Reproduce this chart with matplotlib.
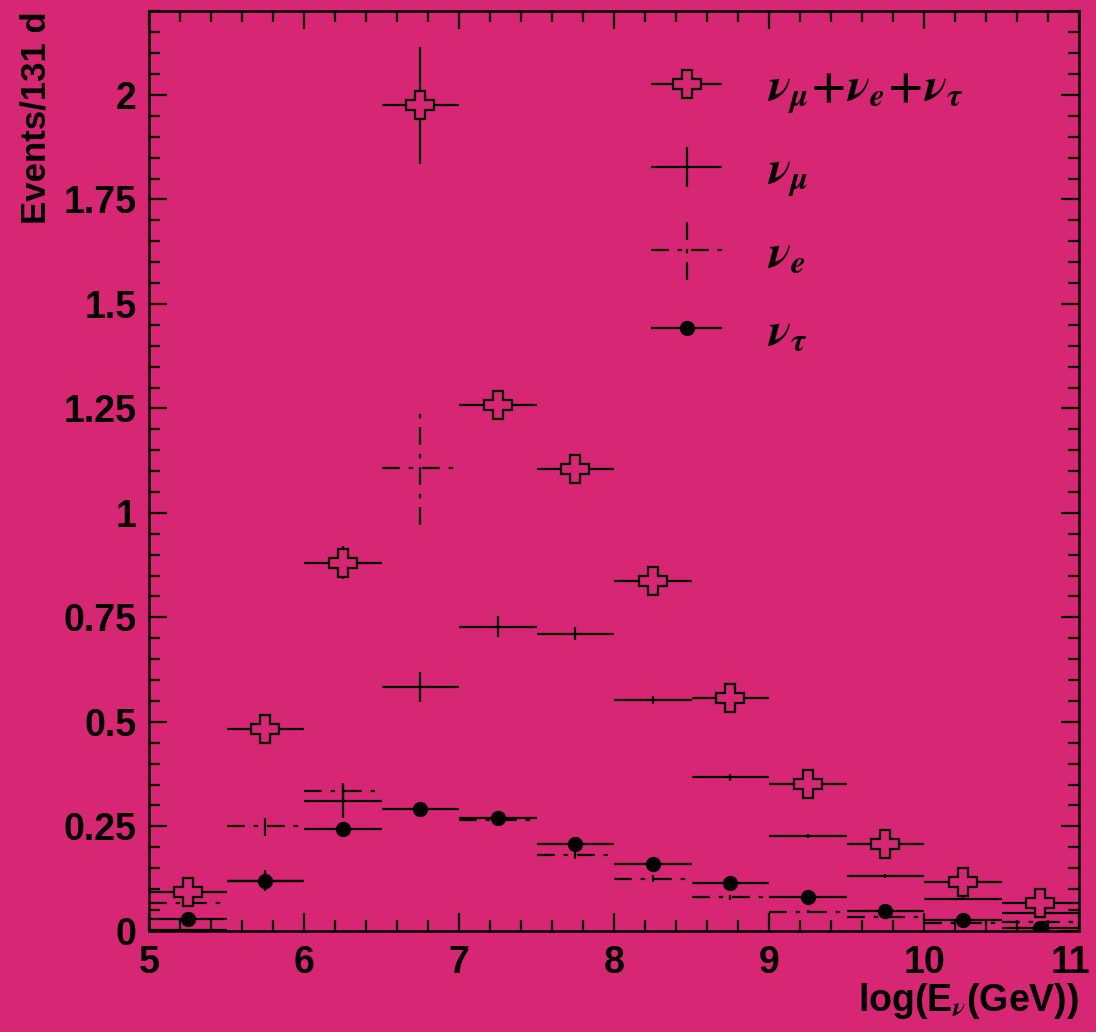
import matplotlib
matplotlib.use("Agg")
import matplotlib.pyplot as plt
from matplotlib.ticker import MultipleLocator, FixedLocator, FixedFormatter
from matplotlib.legend_handler import HandlerErrorbar
from matplotlib.transforms import ScaledTranslation

# energy bins (log10 E / GeV), 0.5 wide
bin_centers = [5.25, 5.75, 6.25, 6.75, 7.25, 7.75, 8.25, 8.75, 9.25, 9.75, 10.25, 10.75]
bin_half = [0.25] * 12

total = [0.094, 0.484, 0.881, 1.975, 1.257, 1.105, 0.836, 0.558, 0.352, 0.209, 0.118, 0.067]
total_err = [0.01, 0.02, 0.04, 0.14, 0.02, 0.02, 0.015, 0.015, 0.01, 0.01, 0.005, 0.005]

numu = [0.003, 0.12, 0.31, 0.584, 0.728, 0.711, 0.553, 0.367, 0.226, 0.132, 0.077, 0.043]
numu_err = [0.0, 0.025, 0.04, 0.036, 0.025, 0.015, 0.01, 0.008, 0.005, 0.005, 0.003, 0.002]

nue = [0.067, 0.251, 0.334, 1.107, 0.265, 0.182, 0.125, 0.08, 0.046, 0.034, 0.019, 0.022]
nue_err = [0.005, 0.024, 0.02, 0.135, 0.01, 0.01, 0.008, 0.005, 0.004, 0.003, 0.002, 0.002]

nutau = [0.029, 0.12, 0.244, 0.291, 0.269, 0.208, 0.159, 0.114, 0.08, 0.048, 0.026, 0.006]
nutau_err = [0.004, 0.02, 0.01, 0.01, 0.008, 0.008, 0.006, 0.004, 0.003, 0.002, 0.002, 0.001]

y_ticks = [0, 0.25, 0.5, 0.75, 1.0, 1.25, 1.5, 1.75, 2.0]
y_tick_labels = ["0", "0.25", "0.5", "0.75", "1", "1.25", "1.5", "1.75", "2"]
x_ticks = [5, 6, 7, 8, 9, 10, 11]

BG = "#D62674"
plt.rcParams["font.family"] = ["Liberation Sans", "DejaVu Sans"]
plt.rcParams["font.weight"] = "bold"
plt.rcParams["mathtext.fontset"] = "stix"

fig = plt.figure(figsize=(10.96, 10.32), dpi=100, facecolor=BG)
ax = fig.add_axes([0.136, 0.098, 0.8485, 0.891])
ax.set_facecolor(BG)

lw = 1.6
eb_total = ax.errorbar(bin_centers, total, xerr=bin_half, yerr=total_err, fmt="P",
                       ms=20, mfc=BG, mec="black", mew=lw, ecolor="black", elinewidth=lw,
                       capsize=0, zorder=5)
eb_numu = ax.errorbar(bin_centers, numu, xerr=bin_half, yerr=numu_err, fmt="none",
                      ecolor="black", elinewidth=lw, capsize=0, zorder=3)
eb_nue = ax.errorbar(bin_centers, nue, xerr=bin_half, yerr=nue_err, fmt="none",
                     ecolor="black", elinewidth=lw, capsize=0, zorder=3)
for coll in eb_nue.lines[2]:
    coll.set_linestyle((0, (8, 4, 2, 4)))
eb_nutau = ax.errorbar(bin_centers, nutau, xerr=bin_half, yerr=nutau_err, fmt="o",
                       ms=10, mfc="black", mec="black", ecolor="black", elinewidth=lw,
                       capsize=0, zorder=4)

ax.set_xlim(5, 11)
ax.set_ylim(0, 2.2)
ax.xaxis.set_major_locator(FixedLocator(x_ticks))
ax.xaxis.set_minor_locator(MultipleLocator(0.2))
ax.yaxis.set_major_locator(FixedLocator(y_ticks))
ax.yaxis.set_major_formatter(FixedFormatter(y_tick_labels))
ax.yaxis.set_minor_locator(MultipleLocator(0.05))
ax.tick_params(which="both", direction="in", top=True, right=True, width=1.6, colors="black")
ax.tick_params(which="major", length=13, labelsize=27, pad=9)
ax.tick_params(which="minor", length=8)
ax.tick_params(axis="x", which="major", pad=10)
for sp in ax.spines.values():
    sp.set_linewidth(1.8)

# keep the "11" at the right edge inside the figure
last_tick = ax.xaxis.get_major_ticks()[-1]
last_tick.label1.set_transform(last_tick.label1.get_transform()
                               + ScaledTranslation(-6 / 72, 0, fig.dpi_scale_trans))

ax.set_ylabel("Events/131 d", fontsize=25, loc="top", labelpad=8, fontweight="bold")
ax.set_xlabel(r"log(E$_\nu$(GeV))", fontsize=27, loc="right", labelpad=0, fontweight="bold")

handler_map = {
    eb_total: HandlerErrorbar(xerr_size=0.75, yerr_size=0.0),
    eb_numu: HandlerErrorbar(xerr_size=0.75, yerr_size=0.42),
    eb_nue: HandlerErrorbar(xerr_size=0.75, yerr_size=0.62),
    eb_nutau: HandlerErrorbar(xerr_size=0.75, yerr_size=0.0),
}
ax.legend([eb_total, eb_numu, eb_nue, eb_nutau],
          [r"$\nu_\mu\!+\!\nu_e\!+\!\nu_\tau$", r"$\nu_\mu$", r"$\nu_e$", r"$\nu_\tau$"],
          handler_map=handler_map, loc="upper left", bbox_to_anchor=(0.54, 0.94),
          frameon=False, fontsize=34, numpoints=1, handlelength=1.5,
          handletextpad=0.95, labelspacing=0.71, borderpad=0, borderaxespad=0)

fig.savefig("out.png", dpi=100, facecolor=BG)
